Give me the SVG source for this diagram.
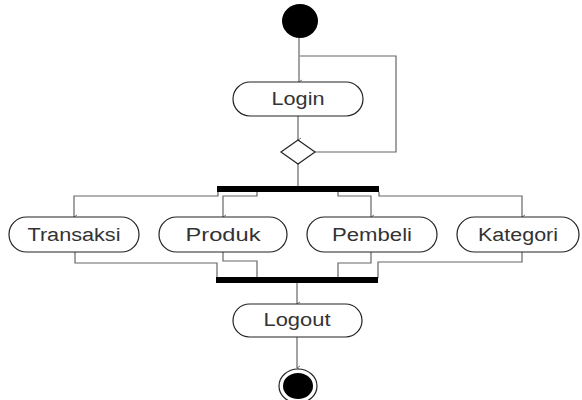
<svg xmlns="http://www.w3.org/2000/svg" width="582" height="400" viewBox="0 0 582 400">
<defs>
<marker id="ah" markerWidth="6" markerHeight="6" refX="3" refY="5" orient="auto" markerUnits="userSpaceOnUse">
<path d="M1,2 L3,5 L5,2" fill="none" stroke="#555" stroke-width="0.8"/>
</marker>
<style>
.act{fill:#fff;stroke:#222;stroke-width:1.2}
.lbl{font-family:"Liberation Sans",Arial,sans-serif;font-size:18px;fill:#333;text-anchor:middle}
.cn{fill:none;stroke:#666;stroke-width:1.2}
.bar{fill:#000}
</style>
</defs>
<rect width="582" height="400" fill="#fff"/>
<g id="connectors">
<path class="cn" d="M299,38 V82" marker-end="url(#ah)"/>
<path class="cn" d="M298,116 V140" marker-end="url(#ah)"/>
<path class="cn" d="M315,152 H396 V56 H300"/>
<path class="cn" d="M298,164 V186"/>
<path class="cn" d="M218,192 V196 H74 V217" marker-end="url(#ah)"/>
<path class="cn" d="M257,192 V196 H223 V217" marker-end="url(#ah)"/>
<path class="cn" d="M338,192 V196 H371 V217" marker-end="url(#ah)"/>
<path class="cn" d="M379,192 V196 H522 V217" marker-end="url(#ah)"/>
<path class="cn" d="M75,252 V263 H217 V278"/>
<path class="cn" d="M223,252 V261 H257 V278"/>
<path class="cn" d="M371,252 V263 H338 V278"/>
<path class="cn" d="M522,252 V262 H378 V278"/>
<path class="cn" d="M297,283 V304" marker-end="url(#ah)"/>
<path class="cn" d="M297,337 V368" marker-end="url(#ah)"/>
</g>
<g id="start"><ellipse cx="300" cy="21" rx="18" ry="17" fill="#000"/></g>
<g id="login"><rect class="act" x="233" y="82" width="130" height="34" rx="17"/><text class="lbl" x="298" y="105" textLength="53" lengthAdjust="spacingAndGlyphs">Login</text></g>
<g id="decision"><polygon points="298,140 315,152 298,164 281,152" fill="#fff" stroke="#222" stroke-width="1.2"/></g>
<g id="fork"><rect class="bar" x="217" y="186" width="162" height="6"/></g>
<g id="transaksi"><rect class="act" x="9" y="217" width="130" height="35" rx="17.5"/><text class="lbl" x="74" y="241" textLength="93" lengthAdjust="spacingAndGlyphs">Transaksi</text></g>
<g id="produk"><rect class="act" x="159" y="217" width="128" height="35" rx="17.5"/><text class="lbl" x="223" y="241" textLength="75" lengthAdjust="spacingAndGlyphs">Produk</text></g>
<g id="pembeli"><rect class="act" x="307" y="217" width="130" height="35" rx="17.5"/><text class="lbl" x="372" y="241" textLength="80" lengthAdjust="spacingAndGlyphs">Pembeli</text></g>
<g id="kategori"><rect class="act" x="457" y="217" width="122" height="35" rx="17.5"/><text class="lbl" x="518" y="241" textLength="80" lengthAdjust="spacingAndGlyphs">Kategori</text></g>
<g id="join"><rect class="bar" x="216" y="277" width="162" height="6"/></g>
<g id="logout"><rect class="act" x="233" y="304" width="129" height="33" rx="16.5"/><text class="lbl" x="297" y="326" textLength="67" lengthAdjust="spacingAndGlyphs">Logout</text></g>
<g id="end"><ellipse cx="298" cy="386" rx="19" ry="17" fill="#fff" stroke="#222" stroke-width="1.2"/><ellipse cx="298" cy="386" rx="15" ry="13" fill="#000"/></g>
</svg>
